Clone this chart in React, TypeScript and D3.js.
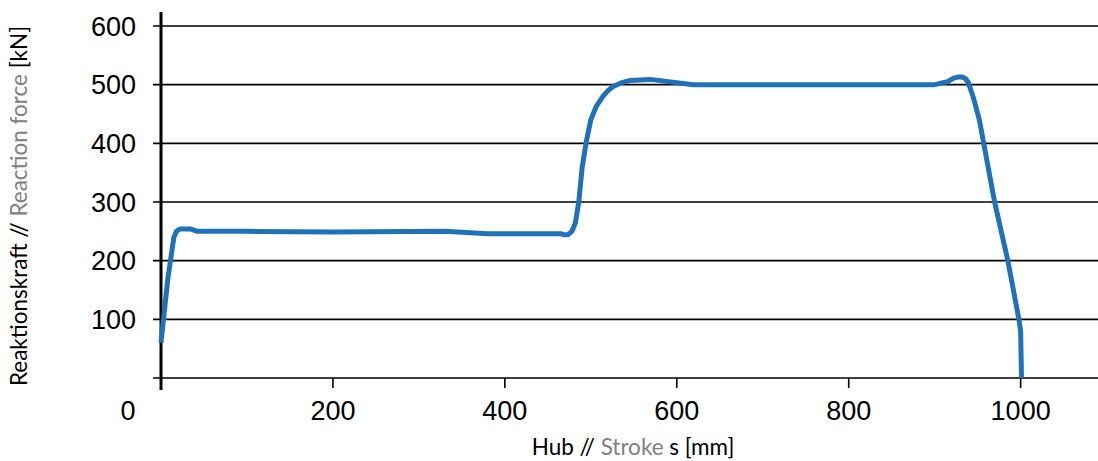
import React from 'react';
import * as d3 from 'd3';

const strokeMm = [0, 8, 15, 18, 22, 34, 38, 42, 100, 200, 330, 380, 465, 469, 473, 478, 482, 486, 490, 495, 500, 506, 514, 520, 526, 535, 545, 569, 619, 700, 800, 900, 915, 922, 927, 932, 936, 939, 945, 952, 970, 985, 998, 1000, 1001];
const forceKn = [60, 170, 240, 250, 254, 254, 252, 250, 250, 249, 250, 246, 246, 244, 244, 250, 264, 300, 360, 405, 440, 462, 480, 490, 497, 503, 507, 509, 500, 500, 500, 500, 505, 511, 513, 513, 510, 504, 478, 440, 298, 201, 100, 80, 0];

const yTicks = [100, 200, 300, 400, 500, 600];
const xTicks = [0, 200, 400, 600, 800, 1000];

const W = 1098;
const H = 461;

export default function App() {
  const x = d3.scaleLinear().domain([0, 1090]).range([161, 1098]);
  const y = d3.scaleLinear().domain([0, 600]).range([378, 26]);

  const line = d3.line<number>()
    .x((d, i) => x(strokeMm[i]))
    .y((d) => y(d))
    .curve(d3.curveLinear);

  const labelFont = 'Liberation Sans, Arial, sans-serif';
  const titleFont = 'Lato, Noto Sans, sans-serif';

  return (
    <svg width={W} height={H} style={{ position: 'absolute', left: 0, top: 0, background: '#fff' }}>
      {/* grid */}
      {[0, ...yTicks].map(t => (
        <line key={t} x1={153} x2={W} y1={y(t)} y2={y(t)} stroke="#000" strokeWidth={1.6} />
      ))}
      {yTicks.map(t => (
        <text key={t} x={136} y={y(t)} dy="0.36em" textAnchor="end"
          fontFamily={labelFont} fontSize={27} fill="#000">{t}</text>
      ))}
      {/* x ticks */}
      {xTicks.filter(t => t > 0).map(t => (
        <line key={t} x1={x(t)} x2={x(t)} y1={y(0)} y2={y(0) + 10} stroke="#000" strokeWidth={1.6} />
      ))}
      {xTicks.map(t => (
        <text key={t} x={t === 0 ? 128 : x(t)} y={420} textAnchor="middle"
          fontFamily={labelFont} fontSize={27} fill="#000">{t}</text>
      ))}
      {/* y axis */}
      <line x1={161} x2={161} y1={12} y2={390} stroke="#000" strokeWidth={3} />
      {/* series */}
      <path d={line(forceKn) || ''} fill="none" stroke="#1f72b8" strokeWidth={5}
        strokeLinejoin="round" strokeLinecap="butt" />
      {/* axis titles */}
      <text x={633} y={455} textAnchor="middle" fontFamily={titleFont} fontSize={22.5} fill="#000">
        Hub // <tspan fill="#808080">Stroke</tspan> s [mm]
      </text>
      <text transform="translate(27,206) rotate(-90)" textAnchor="middle"
        fontFamily={titleFont} fontSize={22.5} fill="#000">
        Reaktionskraft // <tspan fill="#808080">Reaction force</tspan> [kN]
      </text>
    </svg>
  );
}
